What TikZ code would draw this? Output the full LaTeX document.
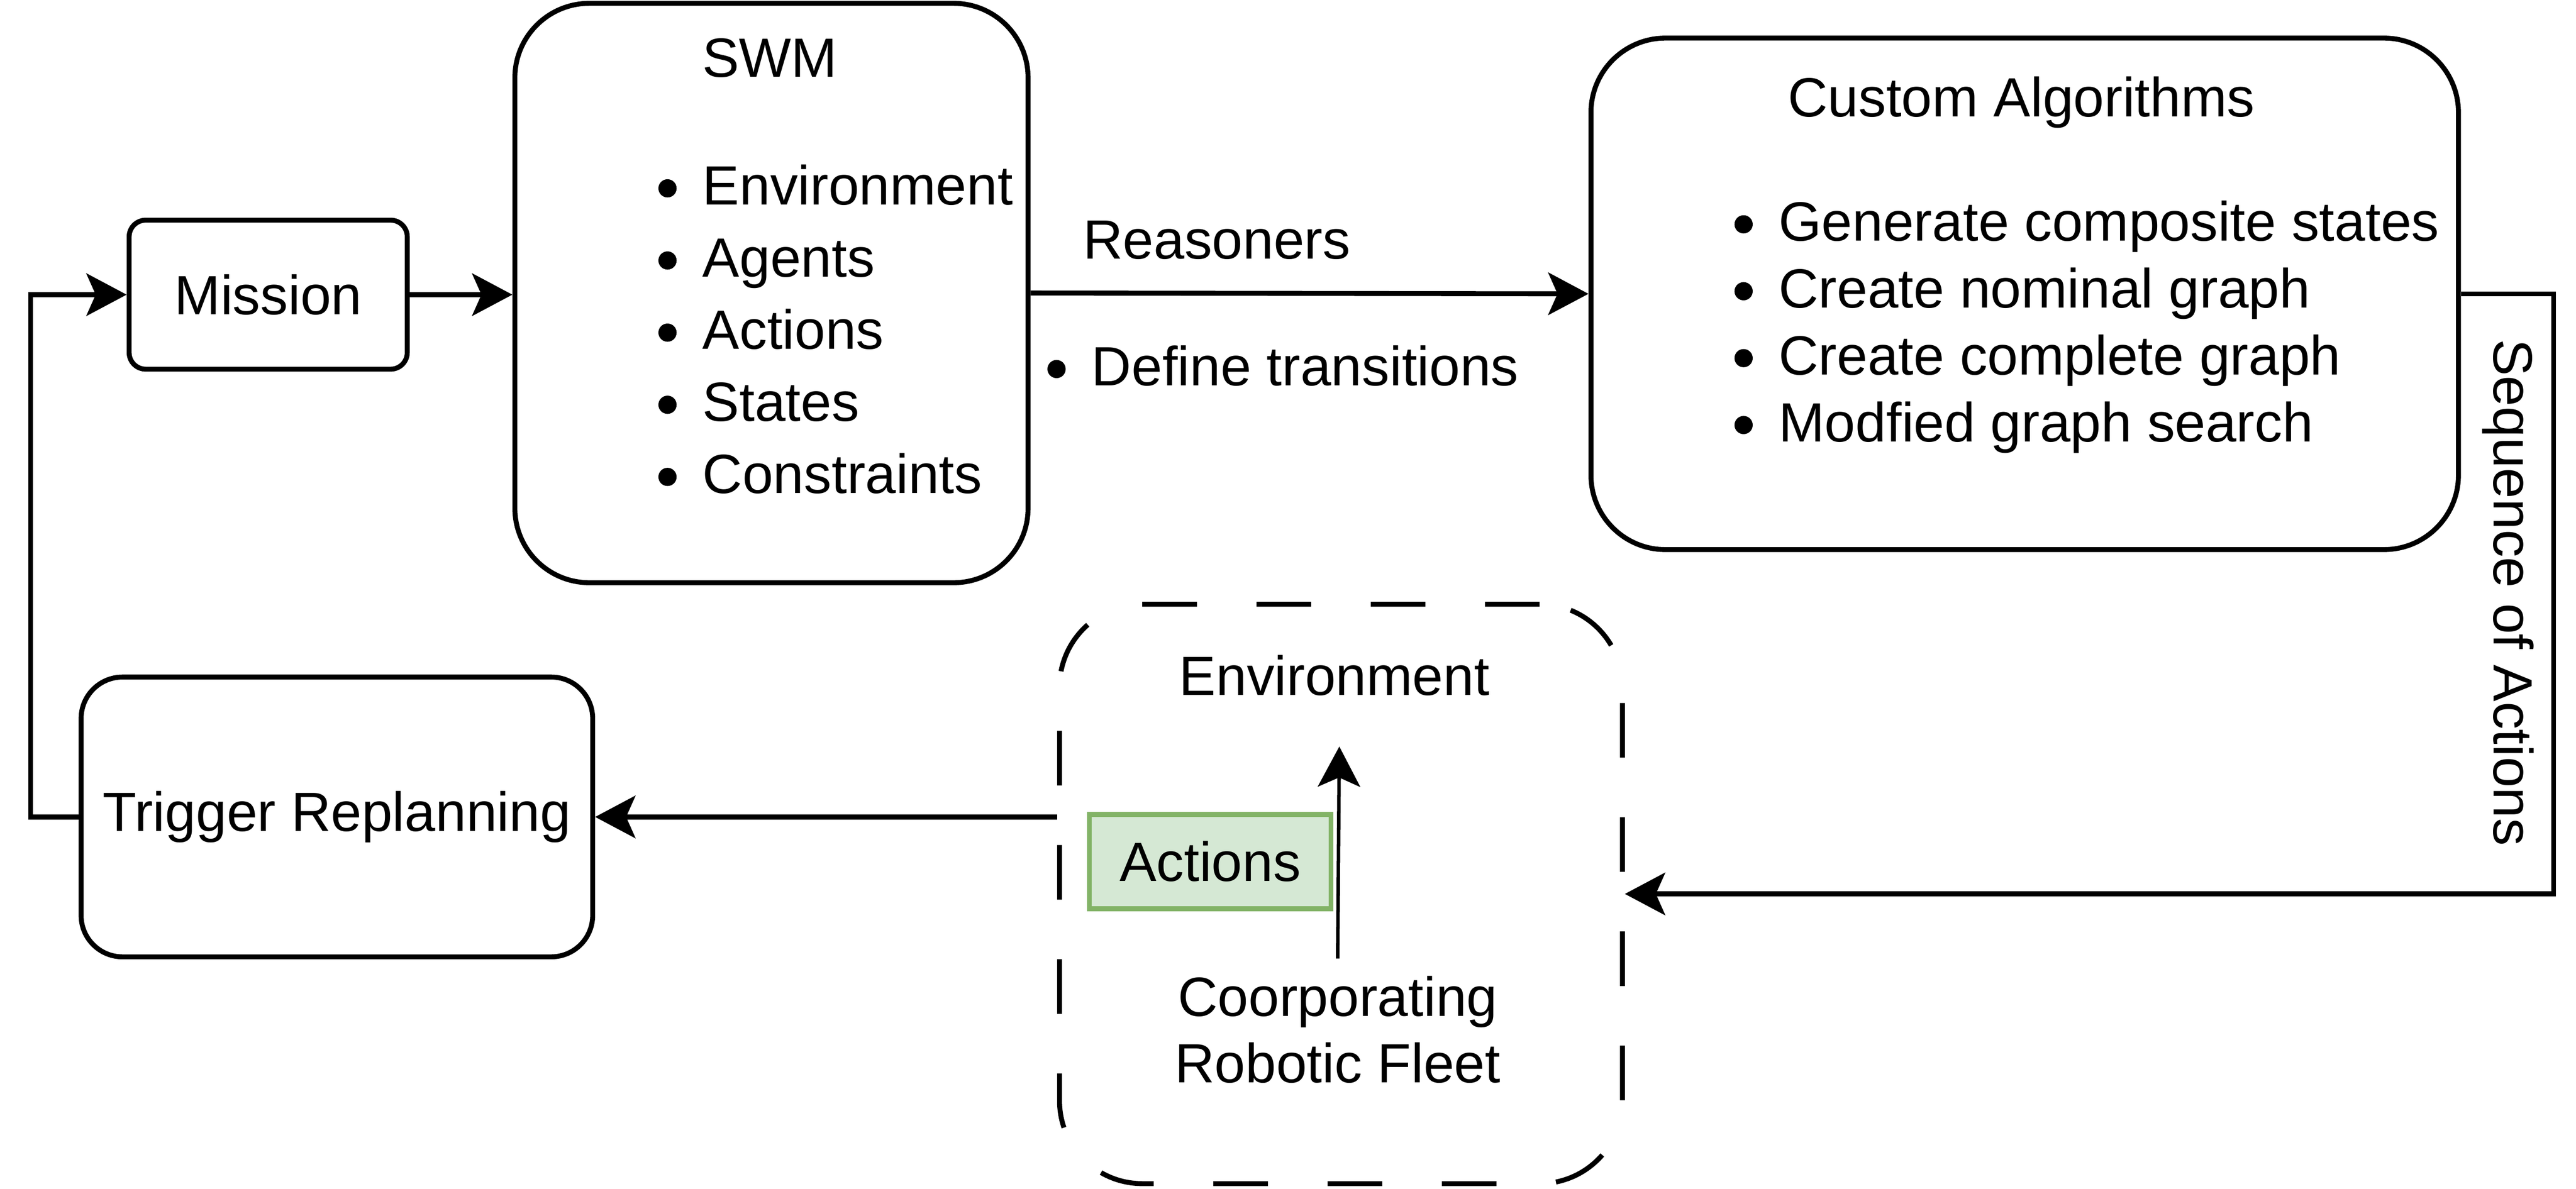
\documentclass[tikz,border=0pt]{standalone}
\usepackage{fontspec}
\setmainfont{Liberation Sans}
\usetikzlibrary{arrows.meta}

\tikzset{
  box/.style={draw, line width=0.85pt},
  arr/.style={line width=0.85pt, -{Stealth[length=0.243cm, width=0.256cm, inset=0.056cm]}},
  txt/.style={inner sep=0pt, font=\fontsize{9.5}{11.4}\selectfont},
}
\newcommand{\bul}{\makebox[0.8em][l]{\raisebox{0.045cm}{\tikz\fill (0,0) circle (0.055cm);}}}

\begin{document}
\begin{tikzpicture}[x=0.1mm, y=-0.1mm]
  \useasboundingbox (0,0) rectangle (1556,718);
  % boxes
  \node[box, rounded corners=0.1cm, minimum width=1.68cm, minimum height=0.9cm] (mission) at (162,178) {};
  \node[box, rounded corners=0.45cm, minimum width=3.1cm, minimum height=3.5cm] (swm) at (466,177) {};
  \node[box, rounded corners=0.45cm, minimum width=5.24cm, minimum height=3.09cm] (custom) at (1223,177.5) {};
  \node[box, rounded corners=0.25cm, minimum width=3.09cm, minimum height=1.69cm] (trigger) at (203.5,493.5) {};
  \node[box, dash pattern=on 0.33cm off 0.36cm, rounded corners=0.5cm, minimum width=3.4cm, minimum height=3.5cm] (env) at (810,540) {};
  \node[draw={rgb,255:red,130;green,179;blue,102}, fill={rgb,255:red,213;green,232;blue,212}, line width=0.85pt, minimum width=1.46cm, minimum height=0.57cm, txt] (actions) at (731,520.5) {Actions};
  % texts
  \node[txt] (missionlabel) at (mission) {Mission};
  \node[txt] (triggerlabel) at (trigger) {Trigger Replanning};
  \node[txt] (swmtitle) at (465,35) {SWM};
  \node[txt, anchor=west, align=left, font=\fontsize{9.5}{12.4}\selectfont] (swmlist) at (397,199)
    {\bul Environment\\ \bul Agents\\ \bul Actions\\ \bul States\\ \bul Constraints};
  \node[txt] (customtitle) at (1221,62) {Custom Algorithms};
  \node[txt, anchor=west, align=left, font=\fontsize{9.5}{11.5}\selectfont] (customlist) at (1047,197.5)
    {\bul Generate composite states\\ \bul Create nominal graph\\ \bul Create complete graph\\ \bul Modfied graph search};
  \node[txt] (reasoners) at (735,145) {Reasoners};
  \node[txt, anchor=west] (transitions) at (632,221) {\bul Define transitions};
  \node[txt, rotate=-90] (sequence) at (1515,358) {Sequence of Actions};
  \node[txt] (envlabel) at (806,408) {Environment};
  \node[txt, align=center] (fleet) at (808,622) {Coorporating\\Robotic Fleet};
  % connectors
  \draw[arr] (mission.east) -- (mission.east -| swm.west);
  \draw[arr] (swm.east) -- (custom.west);
  \draw[arr] (custom.east) -- ++(56,0) |- (env.east);
  \draw[arr] (env.west |- trigger.east) -- (trigger.east);
  \draw[arr] (trigger.west) -- ++(-29,0) |- (mission.west);
  \draw[arr, line width=0.6pt] ([yshift=0.1cm]fleet.north) -- ([xshift=0.03cm, yshift=-0.3cm]envlabel.south);
\end{tikzpicture}
\end{document}
